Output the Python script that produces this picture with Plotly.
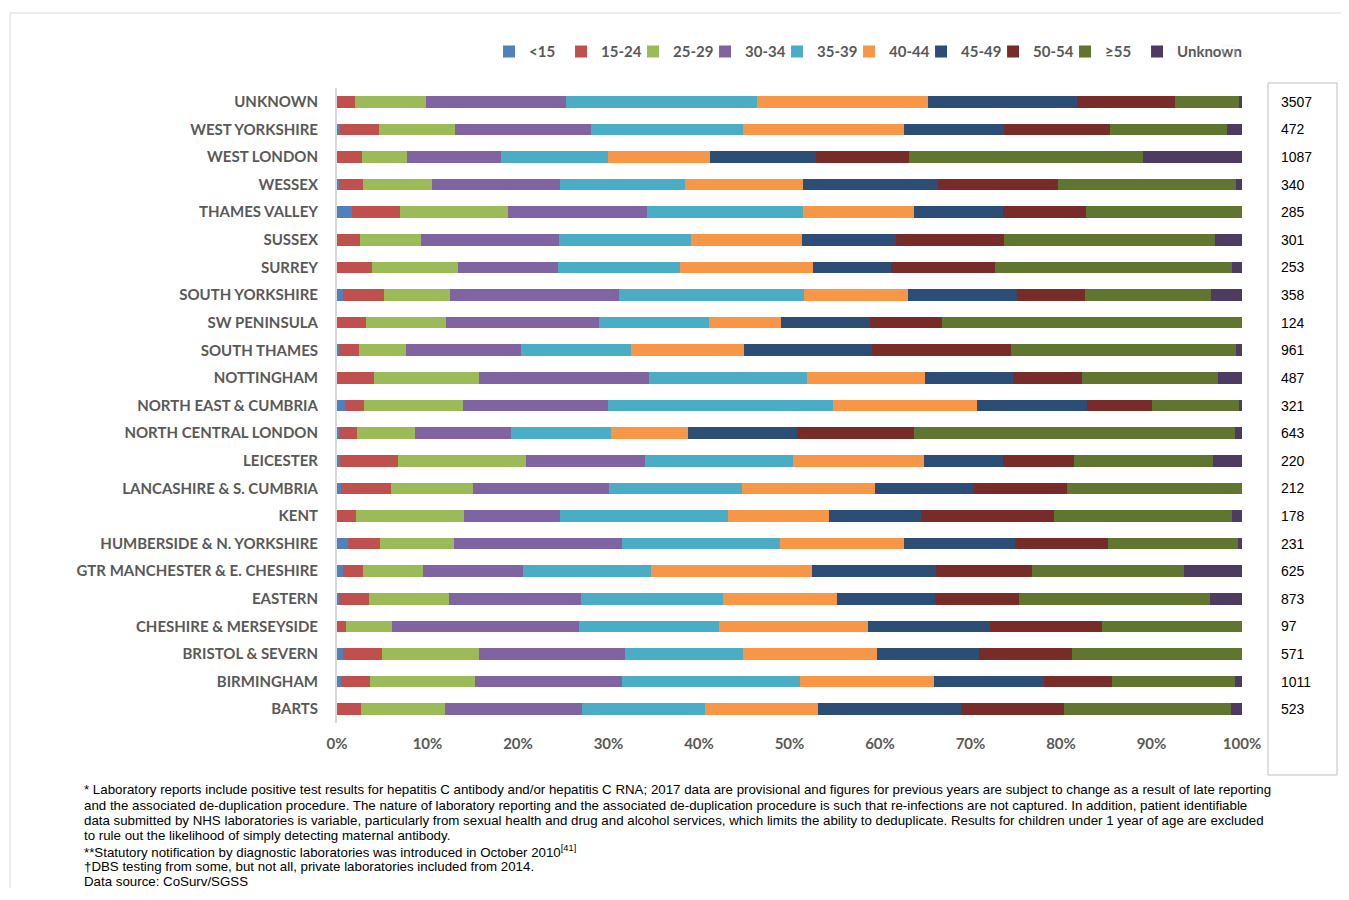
import plotly.graph_objects as go

# regions, top to bottom as in the chart
regions = ["UNKNOWN", "WEST YORKSHIRE", "WEST LONDON", "WESSEX", "THAMES VALLEY", "SUSSEX",
           "SURREY", "SOUTH YORKSHIRE", "SW PENINSULA", "SOUTH THAMES", "NOTTINGHAM",
           "NORTH EAST & CUMBRIA", "NORTH CENTRAL LONDON", "LEICESTER", "LANCASHIRE & S. CUMBRIA",
           "KENT", "HUMBERSIDE & N. YORKSHIRE", "GTR MANCHESTER & E. CHESHIRE", "EASTERN",
           "CHESHIRE & MERSEYSIDE", "BRISTOL & SEVERN", "BIRMINGHAM", "BARTS"]

totals = [3507, 472, 1087, 340, 285, 301, 253, 358, 124, 961, 487, 321, 643, 220, 212, 178,
          231, 625, 873, 97, 571, 1011, 523]

# percentage of reports per age group
age_lt15 = [0, 0.3, 0, 0.2, 1.7, 0, 0, 0.7, 0, 0.2, 0, 0.9, 0.2, 0.3, 0.4, 0, 1.2, 0.7, 0.2, 0, 0.7, 0.4, 0.1]
age_15_24 = [2.0, 4.3, 2.8, 2.7, 5.3, 2.5, 3.9, 4.5, 3.2, 2.2, 4.1, 2.1, 2.0, 6.4, 5.6, 2.1, 3.5, 2.2, 3.3, 1.0, 4.3, 3.2, 2.5]
age_25_29 = [7.8, 8.4, 4.9, 7.6, 11.9, 6.8, 9.5, 7.3, 8.8, 5.2, 11.6, 10.9, 6.4, 14.2, 9.0, 11.9, 8.2, 6.6, 8.9, 5.1, 10.7, 11.6, 9.3]
age_30_34 = [15.5, 15.1, 10.4, 14.1, 15.4, 15.2, 11.0, 18.7, 17.0, 12.7, 18.8, 16.0, 10.6, 13.1, 15.1, 10.6, 18.6, 11.1, 14.6, 20.6, 16.1, 16.3, 15.2]
age_35_39 = [21.1, 16.8, 11.8, 13.9, 17.2, 14.6, 13.5, 20.4, 12.1, 12.2, 17.4, 24.9, 11.1, 16.4, 14.7, 18.6, 17.4, 14.1, 15.6, 15.5, 13.1, 19.7, 13.6]
age_40_44 = [18.9, 17.8, 11.3, 13.0, 12.3, 12.3, 14.7, 11.5, 8.0, 12.5, 13.1, 15.9, 8.5, 14.5, 14.6, 11.2, 13.8, 17.8, 12.7, 16.5, 14.8, 14.8, 12.4]
age_45_49 = [16.5, 11.0, 11.7, 14.9, 9.8, 10.4, 8.6, 12.0, 9.8, 14.1, 9.7, 12.2, 12.0, 8.7, 10.9, 10.1, 12.2, 13.7, 10.8, 13.4, 11.2, 12.1, 15.9]
age_50_54 = [10.8, 11.7, 10.3, 13.3, 9.2, 11.9, 11.5, 7.6, 8.0, 15.4, 7.6, 7.2, 13.0, 7.8, 10.4, 14.7, 10.3, 10.6, 9.3, 12.4, 10.3, 7.5, 11.3]
age_55plus = [7.1, 12.9, 25.9, 19.6, 17.2, 23.3, 26.2, 13.9, 33.1, 24.8, 15.0, 9.6, 35.4, 15.4, 19.3, 19.7, 14.4, 16.8, 21.1, 15.5, 18.8, 13.6, 18.5]
age_unknown = [0.3, 1.7, 10.9, 0.7, 0, 3.0, 1.1, 3.4, 0, 0.7, 2.7, 0.3, 0.8, 3.2, 0, 1.1, 0.4, 6.4, 3.5, 0, 0, 0.8, 1.2]

groups = ["<15", "15-24", "25-29", "30-34", "35-39", "40-44", "45-49", "50-54", "≥55", "Unknown"]
series = [age_lt15, age_15_24, age_25_29, age_30_34, age_35_39, age_40_44, age_45_49, age_50_54, age_55plus, age_unknown]
colors = ["#4F81BD", "#C0504D", "#9BBB59", "#8064A2", "#4BACC6", "#F79646", "#2C4D75", "#772C2A", "#5F7530", "#4D3B62"]

x_ticks = list(range(0, 101, 10))
x_ticktext = [f"{v}%" for v in x_ticks]

grey = "#595959"

fig = go.Figure()
for name, vals, col in zip(groups, series, colors):
    fig.add_trace(go.Bar(y=regions, x=vals, name=name, orientation="h",
                         marker=dict(color=col, line=dict(width=0))))
# empty legend slot so the "Unknown" label is not clipped
fig.add_trace(go.Bar(y=[regions[0]], x=[0], name=" ", orientation="h",
                     marker=dict(color="rgba(0,0,0,0)"), hoverinfo="skip"))

# page has an 8px body margin, so the figure is shrunk to avoid scrollbars
fig.update_layout(
    barmode="stack", barnorm="percent", bargap=0.58,
    width=1341, height=880,
    margin=dict(l=329, r=107, t=80, b=165),
    paper_bgcolor="white", plot_bgcolor="white",
    font=dict(family="Lato", color=grey),
    legend=dict(orientation="h", x=0.168, xanchor="left", y=1.057, yanchor="middle",
                font=dict(size=15, weight="bold", color=grey), traceorder="normal",
                itemwidth=30, entrywidth=27, entrywidthmode="pixels"),
    showlegend=True,
)
fig.update_xaxes(range=[0, 100], tickvals=x_ticks, ticktext=x_ticktext,
                 showgrid=False, zeroline=False, showline=False,
                 tickfont=dict(size=15, weight="bold", color=grey), ticklabelstandoff=10)
fig.update_yaxes(autorange="reversed", showgrid=False, showline=True, linecolor="#D9D9D9",
                 linewidth=2, tickfont=dict(size=15, weight="bold", color=grey),
                 ticklabelstandoff=14)

# totals column
for r, t in zip(regions, totals):
    fig.add_annotation(x=1.0409, xref="paper", y=r, yref="y", text=str(t), showarrow=False,
                       xanchor="left", font=dict(family="Liberation Sans", size=14, color="#000000"))
fig.add_shape(type="rect", xref="paper", yref="paper", x0=1.0287, x1=1.105, y0=-0.0819, y1=1.0079,
              line=dict(color="#BFBFBF", width=1))
# outer frame
fig.add_shape(type="rect", xref="paper", yref="paper", x0=-0.3613, x1=1.13, y0=-0.2945, y1=1.1181,
              line=dict(color="#D9D9D9", width=1))

notes = [
    "* Laboratory reports include positive test results for hepatitis C antibody and/or hepatitis C RNA; 2017 data are provisional and figures for previous years are subject to change as a result of late reporting",
    "and the associated de-duplication procedure. The nature of laboratory reporting and the associated de-duplication procedure is such that re-infections are not captured. In addition, patient identifiable",
    "data submitted by NHS laboratories is variable, particularly from sexual health and drug and alcohol services, which limits the ability to deduplicate. Results for children under 1 year of age are excluded",
    "to rule out the likelihood of simply detecting maternal antibody.",
    "**Statutory notification by diagnostic laboratories was introduced in October 2010<sup>[41]</sup>",
    "†DBS testing from some, but not all, private laboratories included from 2014.",
    "Data source: CoSurv/SGSS",
]
for i, line in enumerate(notes):
    py = 790 + i * 15.3
    fig.add_annotation(x=-0.2818, xref="paper", y=(723 - py) / 635, yref="paper", text=line,
                       showarrow=False, xanchor="left", yanchor="middle", align="left",
                       font=dict(family="Liberation Sans", size=13.3, color="#000000"))

fig.write_html("out.html")
